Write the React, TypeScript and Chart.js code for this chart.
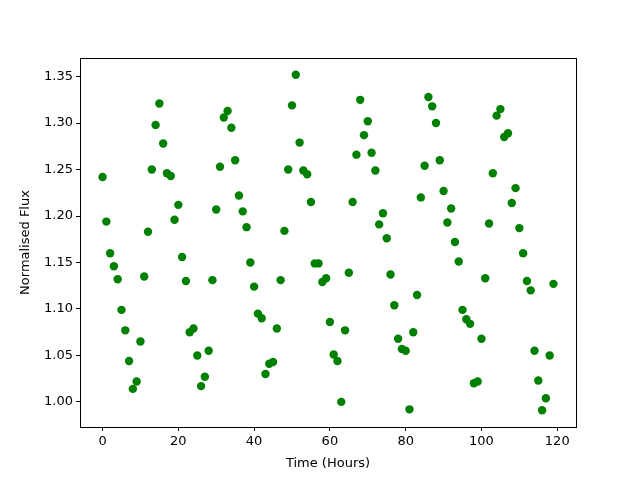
import React, { useEffect, useRef } from "react";
import { Chart, registerables } from "chart.js";

Chart.register(...registerables);

const hours: number[] = Array.from({ length: 120 }, (_, i) => i);

const flux: number[] = [
  1.242, 1.194, 1.160, 1.146, 1.132, 1.099, 1.077, 1.044, 1.014, 1.022,
  1.065, 1.135, 1.183, 1.250, 1.298, 1.321, 1.278, 1.246, 1.243, 1.196,
  1.212, 1.156, 1.130, 1.075, 1.079, 1.050, 1.017, 1.027, 1.055, 1.131,
  1.207, 1.253, 1.306, 1.313, 1.295, 1.260, 1.222, 1.205, 1.188, 1.150,
  1.124, 1.095, 1.090, 1.030, 1.041, 1.043, 1.079, 1.131, 1.184, 1.250,
  1.319, 1.352, 1.279, 1.249, 1.245, 1.215, 1.149, 1.149, 1.129, 1.133,
  1.086, 1.051, 1.044, 1.000, 1.077, 1.139, 1.215, 1.266, 1.325, 1.287,
  1.302, 1.268, 1.249, 1.191, 1.203, 1.176, 1.137, 1.104, 1.068, 1.057,
  1.055, 0.992, 1.075, 1.115, 1.220, 1.254, 1.328, 1.318, 1.300, 1.260,
  1.227, 1.193, 1.208, 1.172, 1.151, 1.099, 1.089, 1.084, 1.020, 1.022,
  1.068, 1.133, 1.192, 1.246, 1.308, 1.315, 1.285, 1.289, 1.214, 1.230,
  1.187, 1.160, 1.130, 1.120, 1.055, 1.023, 0.991, 1.004, 1.050, 1.127,
];

const xTicks: number[] = [0, 20, 40, 60, 80, 100, 120];
const yTicks: number[] = [1.0, 1.05, 1.1, 1.15, 1.2, 1.25, 1.3, 1.35];

const FONT = "'DejaVu Sans', sans-serif";

const framePlugin = {
  id: "frame",
  afterDatasetsDraw(chart: any) {
    const { ctx, chartArea } = chart;
    ctx.save();
    ctx.strokeStyle = "#000";
    ctx.lineWidth = 1;
    ctx.strokeRect(
      Math.round(chartArea.left) + 0.5,
      Math.round(chartArea.top) + 0.5,
      Math.round(chartArea.right - chartArea.left),
      Math.round(chartArea.bottom - chartArea.top)
    );
    ctx.restore();
  },
};

export default function App() {
  const ref = useRef<HTMLCanvasElement | null>(null);

  useEffect(() => {
    if (!ref.current) return;
    const data = hours.map((h, i) => ({ x: h, y: flux[i] }));
    const chart = new Chart(ref.current, {
      type: "scatter",
      data: {
        datasets: [
          {
            data,
            backgroundColor: "#008000",
            borderColor: "#008000",
            borderWidth: 0,
            pointRadius: 4.2,
            pointHoverRadius: 4.2,
          },
        ],
      },
      options: {
        animation: false,
        responsive: false,
        events: [],
        layout: { padding: { top: 58, right: 64, left: 0, bottom: 0 } },
        plugins: {
          legend: { display: false },
          tooltip: { enabled: false },
        },
        scales: {
          x: {
            type: "linear",
            min: -5.95,
            max: 124.95,
            afterBuildTicks: (scale: any) => {
              scale.ticks = xTicks.map((v) => ({ value: v }));
            },
            afterFit: (scale: any) => {
              scale.height = 53;
            },
            grid: {
              drawOnChartArea: false,
              drawTicks: true,
              tickLength: 4,
              tickColor: "#000",
            },
            border: { display: false },
            ticks: {
              color: "#000",
              font: { family: FONT, size: 13 },
              padding: 3,
              maxRotation: 0,
              callback: (v: any) => String(v),
            },
            title: {
              display: true,
              text: "Time (Hours)",
              color: "#000",
              font: { family: FONT, size: 13 },
              padding: { top: 4, bottom: 9 },
            },
          },
          y: {
            type: "linear",
            min: 0.973,
            max: 1.37,
            afterBuildTicks: (scale: any) => {
              scale.ticks = yTicks.map((v) => ({ value: v }));
            },
            afterFit: (scale: any) => {
              scale.width = 80;
            },
            grid: {
              drawOnChartArea: false,
              drawTicks: true,
              tickLength: 4,
              tickColor: "#000",
            },
            border: { display: false },
            ticks: {
              color: "#000",
              font: { family: FONT, size: 13 },
              padding: 3,
              callback: (v: any) => Number(v).toFixed(2),
            },
            title: {
              display: true,
              text: "Normalised Flux",
              color: "#000",
              font: { family: FONT, size: 13 },
              padding: { top: 18, bottom: 4 },
            },
          },
        },
      },
      plugins: [framePlugin],
    });
    return () => chart.destroy();
  }, []);

  return (
    <div style={{ position: "fixed", left: 0, top: 0, width: 640, height: 480, background: "#fff" }}>
      <canvas ref={ref} width={640} height={480} />
    </div>
  );
}
